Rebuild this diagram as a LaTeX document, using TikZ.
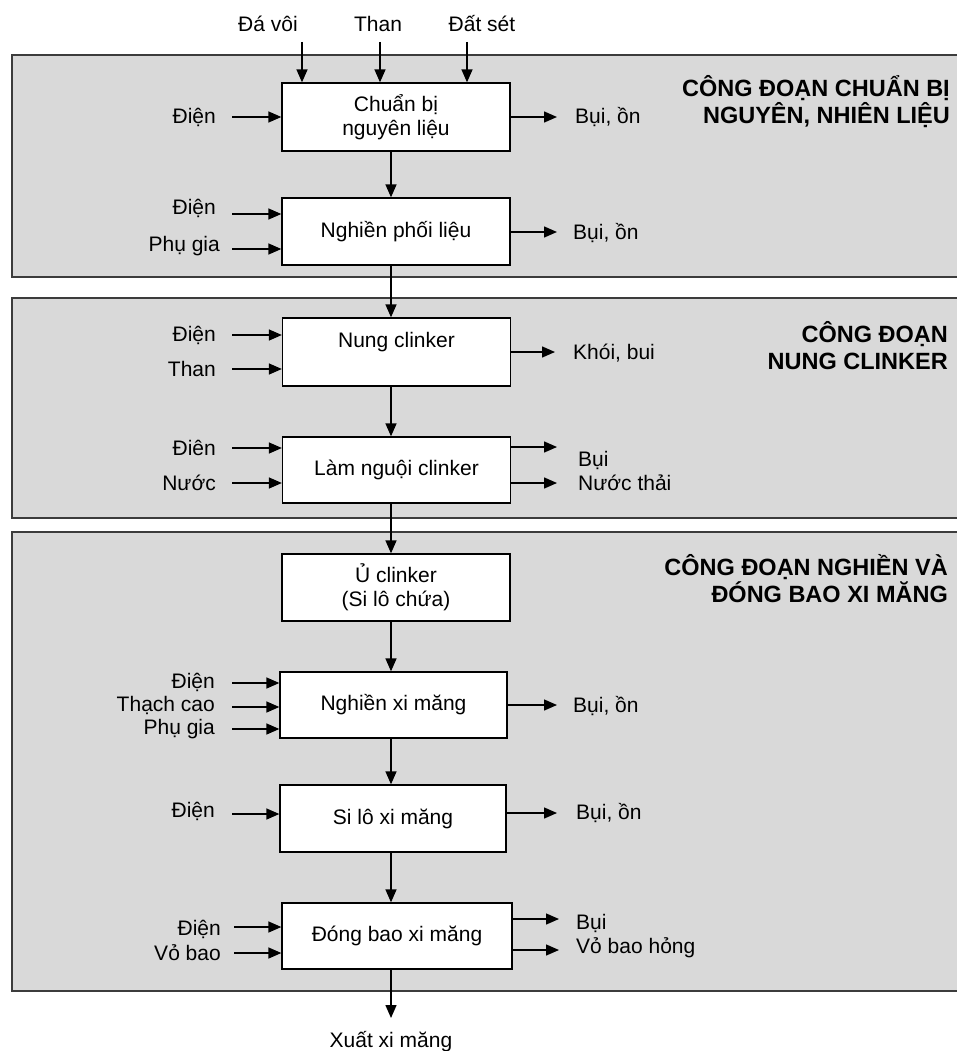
\documentclass[tikz,border=0pt]{standalone}
\usepackage{fontspec}
\setmainfont{Liberation Sans}
\usetikzlibrary{arrows.meta}
\definecolor{panelgray}{RGB}{217,217,217}
\definecolor{panelline}{RGB}{60,60,60}
\newcommand{\mynorm}{\fontsize{21}{24}\selectfont}
\newcommand{\mytitle}{\fontsize{23.5}{27}\selectfont\bfseries}
\begin{document}
\begin{tikzpicture}[x=1pt,y=-1pt,
  panel/.style={draw=panelline, fill=panelgray, line width=1.6pt},
  box/.style={draw=black, fill=white, line width=1.3pt, minimum width=228pt,
    minimum height=67pt, inner sep=0pt, align=center, font=\mynorm},
  arr/.style={line width=1.4pt, -{Triangle[length=13pt,width=11pt]}},
  lab/.style={inner sep=0pt, font=\mynorm},
  inl/.style={lab, anchor=base east},
  outl/.style={lab, anchor=base west, align=left},
  ttl/.style={inner sep=0pt, align=right, font=\mytitle, anchor=base east}
]
\useasboundingbox (0,0) rectangle (956,1051);

% panels
\draw[panel] (12,55) rectangle (962,277);
\draw[panel] (12,298) rectangle (962,518);
\draw[panel] (12,532) rectangle (962,991);

% titles (base = baseline of the last line)
\node[ttl] (t1) at (950,124) {CÔNG ĐOẠN CHUẨN BỊ\\NGUYÊN, NHIÊN LIỆU};
\node[ttl] (t2) at (948,369) {CÔNG ĐOẠN\\NUNG CLINKER};
\node[ttl] (t3) at (948,602) {CÔNG ĐOẠN NGHIỀN VÀ\\ĐÓNG BAO XI MĂNG};

% boxes
\node[box, minimum height=68pt] (cb) at (396,117) {Chuẩn bị\\nguyên liệu};
\node[box] (npl) at (396,231.5) {Nghiền phối liệu};
\node[box, minimum height=68pt] (nc) at (396.5,352) {Nung clinker\\\phantom{X}};
\node[box, minimum height=66pt] (ln) at (396.5,470) {Làm nguội clinker};
\node[box] (u) at (396,587.5) {Ủ clinker\\(Si lô chứa)};
\node[box, minimum height=66pt, minimum width=227pt] (nxm) at (393.5,705) {Nghiền xi măng};
\node[box, minimum width=226pt] (sl) at (393,818.5) {Si lô xi măng};
\node[box, minimum height=66pt, minimum width=230pt] (db) at (397,936) {Đóng bao xi măng};

% main flow
\coordinate (ax) at (391,0);
\draw[arr] (cb.south -| ax) -- (npl.north -| ax);
\draw[arr] (npl.south -| ax) -- (nc.north -| ax);
\draw[arr] (nc.south -| ax) -- (ln.north -| ax);
\draw[arr] (ln.south -| ax) -- (u.north -| ax);
\draw[arr] (u.south -| ax) -- (nxm.north -| ax);
\draw[arr] (nxm.south -| ax) -- (sl.north -| ax);
\draw[arr] (sl.south -| ax) -- (db.north -| ax);
\coordinate (xout) at (391,1018);
\draw[arr] (db.south -| ax) -- (xout);
\node[lab, anchor=base] (xuat) at (391,1047) {Xuất xi măng};

% top inputs
\node[lab, anchor=base] (dv) at (268,32) {Đá vôi};
\node[lab, anchor=base] (th) at (378,32) {Than};
\node[lab, anchor=base] (ds) at (482,32) {Đất sét};
\coordinate (a1) at (302,42);
\coordinate (a2) at (380,42);
\coordinate (a3) at (467,42);
\draw[arr] (a1) -- (a1 |- cb.north);
\draw[arr] (a2) -- (a2 |- cb.north);
\draw[arr] (a3) -- (a3 |- cb.north);

% left inputs
\node[inl] (i1) at (216,124) {Điện};
\coordinate (c1) at (232,117);
\draw[arr] (c1) -- (c1 -| cb.west);

\node[inl] (i2) at (216,214) {Điện};
\node[inl] (i3) at (220,251) {Phụ gia};
\coordinate (c2) at (232,214);
\coordinate (c3) at (232,249);
\draw[arr] (c2) -- (c2 -| npl.west);
\draw[arr] (c3) -- (c3 -| npl.west);

\node[inl] (i4) at (216,341) {Điện};
\node[inl] (i5) at (216,376) {Than};
\coordinate (c4) at (232,335);
\coordinate (c5) at (232,369);
\draw[arr] (c4) -- (c4 -| nc.west);
\draw[arr] (c5) -- (c5 -| nc.west);

\node[inl] (i6) at (216,455) {Điên};
\node[inl] (i7) at (216,490) {Nước};
\coordinate (c6) at (232,448);
\coordinate (c7) at (232,483);
\draw[arr] (c6) -- (c6 -| ln.west);
\draw[arr] (c7) -- (c7 -| ln.west);

\node[inl] (i8) at (215,688) {Điện};
\node[inl] (i9) at (215,711) {Thạch cao};
\node[inl] (i10) at (215,734) {Phụ gia};
\coordinate (c8) at (232,683);
\coordinate (c9) at (232,707);
\coordinate (c10) at (232,729);
\draw[arr] (c8) -- (c8 -| nxm.west);
\draw[arr] (c9) -- (c9 -| nxm.west);
\draw[arr] (c10) -- (c10 -| nxm.west);

\node[inl] (i11) at (215,817) {Điện};
\coordinate (c11) at (232,814);
\draw[arr] (c11) -- (c11 -| sl.west);

\node[inl] (i12) at (221,935) {Điện};
\node[inl] (i13) at (221,960) {Vỏ bao};
\coordinate (c12) at (234,927);
\coordinate (c13) at (234,953);
\draw[arr] (c12) -- (c12 -| db.west);
\draw[arr] (c13) -- (c13 -| db.west);

% right outputs
\coordinate (o1) at (557,117);
\draw[arr] (o1 -| cb.east) -- (o1);
\node[outl] (r1) at (575,124) {Bụi, ồn};

\coordinate (o2) at (557,232);
\draw[arr] (o2 -| npl.east) -- (o2);
\node[outl] (r2) at (573,239) {Bụi, ồn};

\coordinate (o3) at (555,352);
\draw[arr] (o3 -| nc.east) -- (o3);
\node[outl] (r3) at (573,359) {Khói, bui};

\coordinate (o4) at (557,447);
\coordinate (o5) at (557,483);
\draw[arr] (o4 -| ln.east) -- (o4);
\draw[arr] (o5 -| ln.east) -- (o5);
\node[outl] (r4) at (578,490) {Bụi\\Nước thải};

\coordinate (o6) at (557,705);
\draw[arr] (o6 -| nxm.east) -- (o6);
\node[outl] (r6) at (573,712) {Bụi, ồn};

\coordinate (o7) at (557,813);
\draw[arr] (o7 -| sl.east) -- (o7);
\node[outl] (r7) at (576,819) {Bụi, ồn};

\coordinate (o8) at (559,919);
\coordinate (o9) at (559,950);
\draw[arr] (o8 -| db.east) -- (o8);
\draw[arr] (o9 -| db.east) -- (o9);
\node[outl] (r8) at (576,953) {Bụi\\Vỏ bao hỏng};
\end{tikzpicture}
\end{document}
